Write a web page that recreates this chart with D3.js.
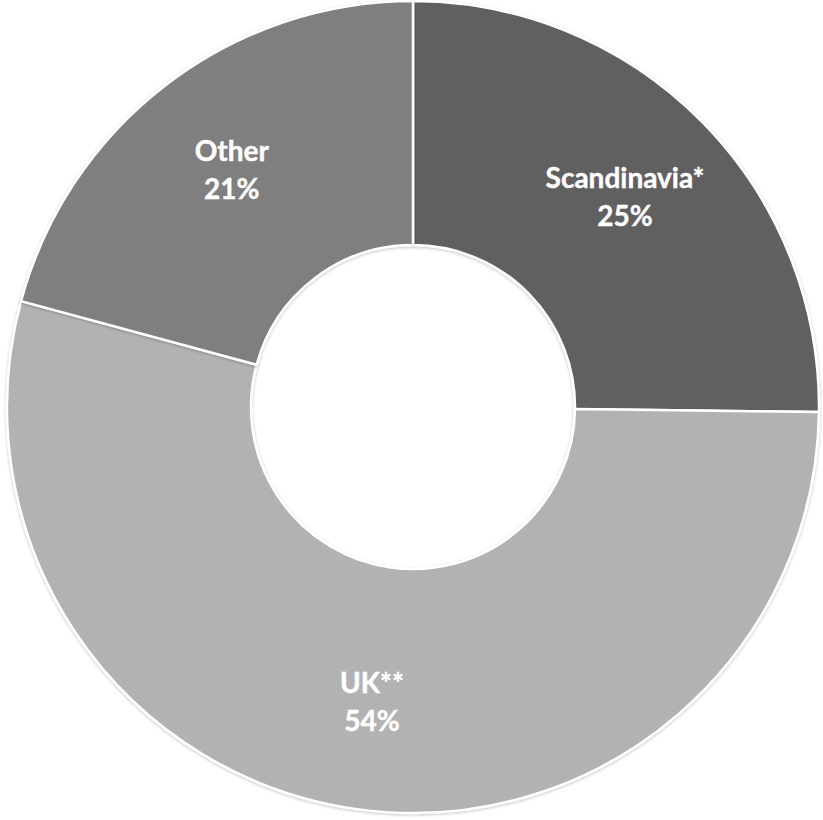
<!DOCTYPE html>
<html>
<head>
<meta charset="utf-8">
<script src="https://cdn.jsdelivr.net/npm/d3@7"></script>
<style>
  html, body { margin: 0; padding: 0; background: #fff; }
  svg { display: block; }
</style>
</head>
<body>
<svg id="chart" width="823" height="820"></svg>
<script>
const categories = ["Scandinavia*", "UK**", "Other"];
const values = [25.2, 54.0, 20.8];
const percentLabels = ["25%", "54%", "21%"];
const colors = ["#606060", "#b2b2b2", "#7f7f7f"];

const svg = d3.select("#chart");
const cx = 413, cy = 407, outerR = 406, innerR = 162, labelR = 298;

const defs = svg.append("defs");
const f = defs.append("filter").attr("id", "sh").attr("x", "-5%").attr("y", "-5%").attr("width", "110%").attr("height", "110%");
f.append("feDropShadow").attr("dx", 0).attr("dy", 1).attr("stdDeviation", 1.5).attr("flood-color", "#000").attr("flood-opacity", 0.25);

const g = svg.append("g").attr("transform", `translate(${cx},${cy})`);

const pie = d3.pie().sort(null).value(d => d);
const arcs = pie(values);
const arc = d3.arc().innerRadius(innerR).outerRadius(outerR);
const labelArc = d3.arc().innerRadius(labelR).outerRadius(labelR);

g.selectAll("path.slice")
  .data(arcs)
  .enter().append("path")
  .attr("class", "slice")
  .attr("d", arc)
  .attr("fill", (d, i) => colors[i])
  .attr("stroke", "#fff")
  .attr("stroke-width", 2.5)
  .attr("stroke-linejoin", "round")
  .attr("filter", "url(#sh)");

const lbl = g.selectAll("text.lbl")
  .data(arcs)
  .enter().append("text")
  .attr("class", "lbl")
  .attr("transform", d => `translate(${labelArc.centroid(d)})`)
  .attr("text-anchor", "middle")
  .attr("fill", "#fff")
  .attr("stroke", "#fff")
  .attr("stroke-width", 0.4)
  .attr("font-family", "Lato, 'Open Sans', sans-serif")
  .attr("font-weight", "bold")
  .attr("font-size", 28);

lbl.append("tspan").attr("x", 0).attr("y", -9.5).text((d, i) => categories[i]);
lbl.append("tspan").attr("x", 0).attr("y", 28.5).text((d, i) => percentLabels[i]);
</script>
</body>
</html>
